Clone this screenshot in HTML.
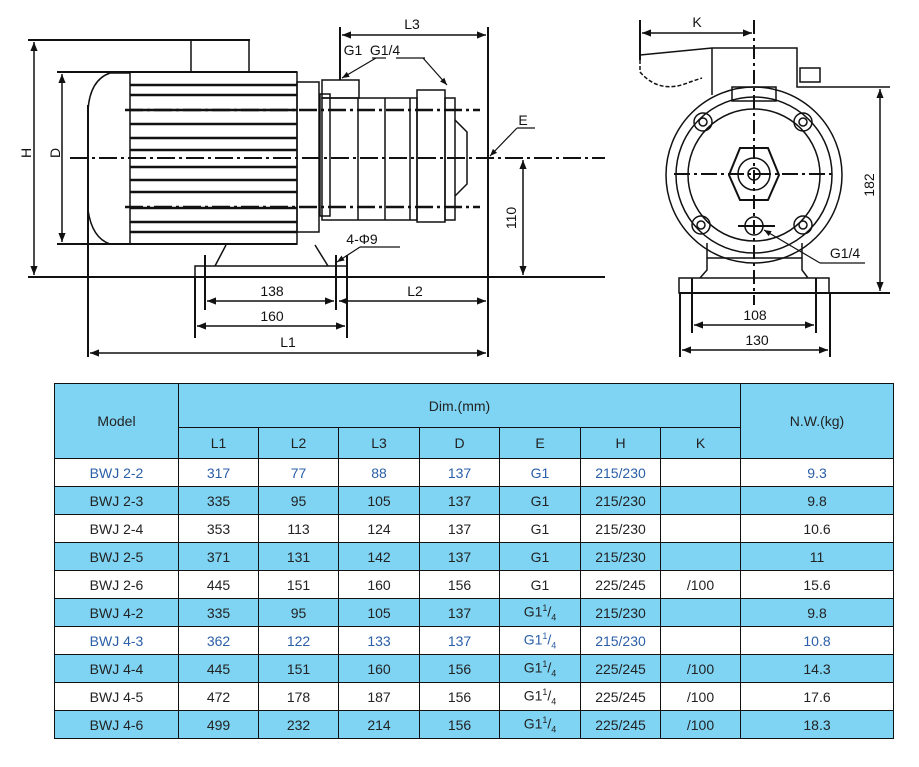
<!DOCTYPE html>
<html><head><meta charset="utf-8"><style>
html,body{margin:0;padding:0;background:#fff;}
body{width:919px;height:767px;position:relative;overflow:hidden;font-family:"Liberation Sans",sans-serif;}
svg{position:absolute;left:0;top:0;}
table{position:absolute;left:54px;top:383px;border-collapse:collapse;font-size:14px;color:#222;}
td{border:1px solid #111;text-align:center;padding:0;height:27px;}
.h{background:#7fd4f4;}
.b{background:#7fd4f4;}
.bl td{color:#2a5ea8;}
</style></head><body>
<svg width="919" height="380" viewBox="0 0 919 380" font-family="Liberation Sans, sans-serif" font-size="14" fill="none" stroke="#111" stroke-width="2">
<defs><marker id="a" viewBox="0 0 10 10" refX="10" refY="5" markerWidth="9" markerHeight="6" orient="auto-start-reverse"><path d="M0,1 L10,5 L0,9z" fill="#111" stroke="none"/></marker></defs>
<!-- left view -->
<line x1="28" y1="40" x2="250" y2="40"/>
<line x1="34" y1="42" x2="34" y2="275" marker-start="url(#a)" marker-end="url(#a)" stroke-width="1.5"/>
<line x1="57" y1="72" x2="297" y2="72"/>
<line x1="57" y1="244" x2="297" y2="244"/>
<line x1="62" y1="74" x2="62" y2="242" marker-start="url(#a)" marker-end="url(#a)" stroke-width="1.5"/>
<text x="26" y="163" fill="#111" stroke="none" transform="rotate(-90 26 158)">H</text>
<text x="55" y="163" fill="#111" stroke="none" transform="rotate(-90 55 158)">D</text>
<rect x="191" y="40" width="58" height="32" stroke-width="1.5"/>
<path d="M130,73 L110,73 Q90,80 88,110 L88,210 Q92,238 110,244 L130,244" stroke-width="1.5"/>
<rect x="130" y="72" width="167" height="172" stroke-width="1.5"/>
<g stroke-width="2.5">
<line x1="130" y1="85" x2="297" y2="85"/><line x1="130" y1="95" x2="297" y2="95"/><line x1="130" y1="110" x2="297" y2="110"/><line x1="130" y1="124" x2="297" y2="124"/><line x1="130" y1="138" x2="297" y2="138"/><line x1="130" y1="150" x2="297" y2="150"/><line x1="130" y1="167" x2="297" y2="167"/><line x1="130" y1="180" x2="297" y2="180"/><line x1="130" y1="192" x2="297" y2="192"/><line x1="130" y1="208" x2="297" y2="208"/><line x1="130" y1="222" x2="297" y2="222"/><line x1="130" y1="232" x2="297" y2="232"/>
</g>
<line x1="125" y1="110" x2="480" y2="110" stroke-dasharray="18,4,3,4" stroke-width="2.5"/>
<line x1="125" y1="207" x2="480" y2="207" stroke-dasharray="18,4,3,4" stroke-width="2.5"/>
<rect x="297" y="82" width="22" height="150" stroke-width="1.5"/>
<rect x="320" y="94" width="10" height="122" stroke-width="1.5"/>
<rect x="322" y="98" width="95" height="122" stroke-width="1.5"/>
<line x1="358" y1="98" x2="358" y2="220" stroke-width="1.5"/><line x1="385" y1="98" x2="385" y2="220" stroke-width="1.5"/><line x1="410" y1="98" x2="410" y2="220" stroke-width="1.5"/>
<rect x="417" y="90" width="28" height="132" stroke-width="1.5"/>
<rect x="445" y="98" width="10" height="122" stroke-width="1.5"/>
<path d="M455,120 L467,132 L467,184 L455,196" stroke-width="1.5"/>
<rect x="322" y="80" width="37" height="18" stroke-width="1.5"/>
<line x1="70" y1="158" x2="605" y2="158" stroke-dasharray="18,4,3,4" stroke-width="2"/>
<line x1="28" y1="277" x2="605" y2="277"/>
<line x1="88" y1="105" x2="88" y2="357"/>
<line x1="488" y1="27" x2="488" y2="357"/>
<line x1="340" y1="27" x2="340" y2="80"/>
<line x1="342" y1="35" x2="486" y2="35" marker-start="url(#a)" marker-end="url(#a)" stroke-width="1.5"/>
<path d="M195,277 L195,266 L347,266 L347,277" stroke-width="1.5"/>
<line x1="226" y1="245" x2="215" y2="266" stroke-width="1.5"/>
<line x1="315" y1="245" x2="328" y2="266" stroke-width="1.5"/>
<line x1="205" y1="255" x2="205" y2="310"/><line x1="336" y1="255" x2="336" y2="310"/>
<line x1="195" y1="277" x2="195" y2="338"/><line x1="347" y1="255" x2="347" y2="338"/>
<line x1="207" y1="301" x2="334" y2="301" marker-start="url(#a)" marker-end="url(#a)" stroke-width="1.5"/>
<line x1="339" y1="301" x2="486" y2="301" marker-start="url(#a)" marker-end="url(#a)" stroke-width="1.5"/>
<line x1="197" y1="326" x2="345" y2="326" marker-start="url(#a)" marker-end="url(#a)" stroke-width="1.5"/>
<line x1="90" y1="353" x2="486" y2="353" marker-start="url(#a)" marker-end="url(#a)" stroke-width="1.5"/>
<line x1="523" y1="160" x2="523" y2="275" marker-start="url(#a)" marker-end="url(#a)" stroke-width="1.5"/>
<line x1="372" y1="58" x2="386" y2="58" stroke-width="1.2"/>
<line x1="376" y1="58" x2="342" y2="78" marker-end="url(#a)" stroke-width="1.2"/>
<line x1="396" y1="58" x2="425" y2="58" stroke-width="1.2"/>
<line x1="423" y1="58" x2="447" y2="85" marker-end="url(#a)" stroke-width="1.2"/>
<line x1="360" y1="247" x2="400" y2="247" stroke-width="1.2"/>
<line x1="360" y1="247" x2="337" y2="262" marker-end="url(#a)" stroke-width="1.2"/>
<line x1="517" y1="128" x2="535" y2="128" stroke-width="1.2"/>
<line x1="517" y1="128" x2="490" y2="156" marker-end="url(#a)" stroke-width="1.2"/>
<g fill="#111" stroke="none" text-anchor="middle">
<text x="412" y="29">L3</text><text x="353" y="55">G1</text><text x="385" y="55">G1/4</text>
<text x="523" y="125">E</text><text x="362" y="244">4-Φ9</text>
<text x="272" y="296">138</text><text x="415" y="296">L2</text><text x="272" y="321">160</text><text x="288" y="347">L1</text>
<text x="516" y="218" transform="rotate(-90 516 218)">110</text>
</g>
<!-- right view -->
<line x1="640" y1="20" x2="640" y2="60"/>
<line x1="642" y1="33" x2="752" y2="33" marker-start="url(#a)" marker-end="url(#a)" stroke-width="1.5"/>
<path d="M640,55 L712,48 L797,48 L797,87 L890,87" stroke-width="1.5"/>
<line x1="712" y1="48" x2="712" y2="95" stroke-width="1.5"/>
<path d="M640,60 L640,72 Q660,95 690,82 L702,78" stroke-width="1.5" stroke-dasharray="4,2"/>
<rect x="800" y="68" width="20" height="14" stroke-width="1.5"/>
<line x1="754" y1="20" x2="754" y2="305" stroke-width="2" stroke-dasharray="14,4,3,4"/>
<circle cx="754" cy="175" r="88" stroke-width="1.5"/>
<circle cx="754" cy="175" r="78" stroke-width="1.5"/>
<circle cx="754" cy="175" r="66" stroke-width="1.5"/>
<polygon points="740,148 768,148 779,175 768,200 740,200 729,175" stroke-width="2"/>
<circle cx="754" cy="174" r="16" stroke-width="1.5"/><circle cx="754" cy="174" r="6" stroke-width="1.5"/>
<line x1="674" y1="174" x2="834" y2="174" stroke-dasharray="16,4,3,4"/>
<g stroke-width="1.5"><circle cx="703" cy="122" r="9"/><circle cx="803" cy="122" r="9"/><circle cx="701" cy="225" r="9"/><circle cx="803" cy="225" r="9"/><circle cx="754" cy="226" r="9"/>
<circle cx="703" cy="122" r="4"/><circle cx="803" cy="122" r="4"/><circle cx="701" cy="225" r="4"/><circle cx="803" cy="225" r="4"/></g>
<line x1="738" y1="226" x2="775" y2="226"/>
<rect x="732" y="87" width="44" height="14" stroke-width="1.5"/>
<path d="M707,243 L707,270 L700,278 M802,243 L802,270 L808,278 M707,258 L802,258" stroke-width="1.5"/>
<rect x="679" y="278" width="150" height="15" stroke-width="1.5"/>
<line x1="679" y1="293" x2="890" y2="293"/>
<line x1="880" y1="89" x2="880" y2="291" marker-start="url(#a)" marker-end="url(#a)" stroke-width="1.5"/>
<line x1="692" y1="278" x2="692" y2="333"/><line x1="816" y1="278" x2="816" y2="333"/>
<line x1="680" y1="293" x2="680" y2="357"/><line x1="830" y1="293" x2="830" y2="357"/>
<line x1="694" y1="325" x2="814" y2="325" marker-start="url(#a)" marker-end="url(#a)" stroke-width="1.5"/>
<line x1="682" y1="350" x2="828" y2="350" marker-start="url(#a)" marker-end="url(#a)" stroke-width="1.5"/>
<line x1="820" y1="263" x2="865" y2="263" stroke-width="1.2"/>
<line x1="820" y1="263" x2="764" y2="230" marker-end="url(#a)" stroke-width="1.2"/>
<g fill="#111" stroke="none" text-anchor="middle">
<text x="697" y="27">K</text><text x="755" y="320">108</text><text x="757" y="345">130</text><text x="845" y="258">G1/4</text>
<text x="874" y="185" transform="rotate(-90 874 185)">182</text>
</g>
</svg>
<table>
<tr class="h"><td rowspan="2" style="width:123px">Model</td><td colspan="7" style="height:43px">Dim.(mm)</td><td rowspan="2" style="width:152px">N.W.(kg)</td></tr>
<tr class="h"><td style="width:79px;height:30px">L1</td><td style="width:79px">L2</td><td style="width:80px">L3</td><td style="width:79px">D</td><td style="width:80px">E</td><td style="width:79px">H</td><td style="width:79px">K</td></tr>
<tr class="bl"><td>BWJ 2-2</td><td>317</td><td>77</td><td>88</td><td>137</td><td>G1</td><td>215/230</td><td></td><td>9.3</td></tr>
<tr class="b"><td>BWJ 2-3</td><td>335</td><td>95</td><td>105</td><td>137</td><td>G1</td><td>215/230</td><td></td><td>9.8</td></tr>
<tr><td>BWJ 2-4</td><td>353</td><td>113</td><td>124</td><td>137</td><td>G1</td><td>215/230</td><td></td><td>10.6</td></tr>
<tr class="b"><td>BWJ 2-5</td><td>371</td><td>131</td><td>142</td><td>137</td><td>G1</td><td>215/230</td><td></td><td>11</td></tr>
<tr><td>BWJ 2-6</td><td>445</td><td>151</td><td>160</td><td>156</td><td>G1</td><td>225/245</td><td>/100</td><td>15.6</td></tr>
<tr class="b"><td>BWJ 4-2</td><td>335</td><td>95</td><td>105</td><td>137</td><td>G1<sup style="font-size:9px">1</sup>/<sub style="font-size:9px">4</sub></td><td>215/230</td><td></td><td>9.8</td></tr>
<tr class="bl"><td>BWJ 4-3</td><td>362</td><td>122</td><td>133</td><td>137</td><td>G1<sup style="font-size:9px">1</sup>/<sub style="font-size:9px">4</sub></td><td>215/230</td><td></td><td>10.8</td></tr>
<tr class="b"><td>BWJ 4-4</td><td>445</td><td>151</td><td>160</td><td>156</td><td>G1<sup style="font-size:9px">1</sup>/<sub style="font-size:9px">4</sub></td><td>225/245</td><td>/100</td><td>14.3</td></tr>
<tr><td>BWJ 4-5</td><td>472</td><td>178</td><td>187</td><td>156</td><td>G1<sup style="font-size:9px">1</sup>/<sub style="font-size:9px">4</sub></td><td>225/245</td><td>/100</td><td>17.6</td></tr>
<tr class="b"><td>BWJ 4-6</td><td>499</td><td>232</td><td>214</td><td>156</td><td>G1<sup style="font-size:9px">1</sup>/<sub style="font-size:9px">4</sub></td><td>225/245</td><td>/100</td><td>18.3</td></tr>
</table>
</body></html>
